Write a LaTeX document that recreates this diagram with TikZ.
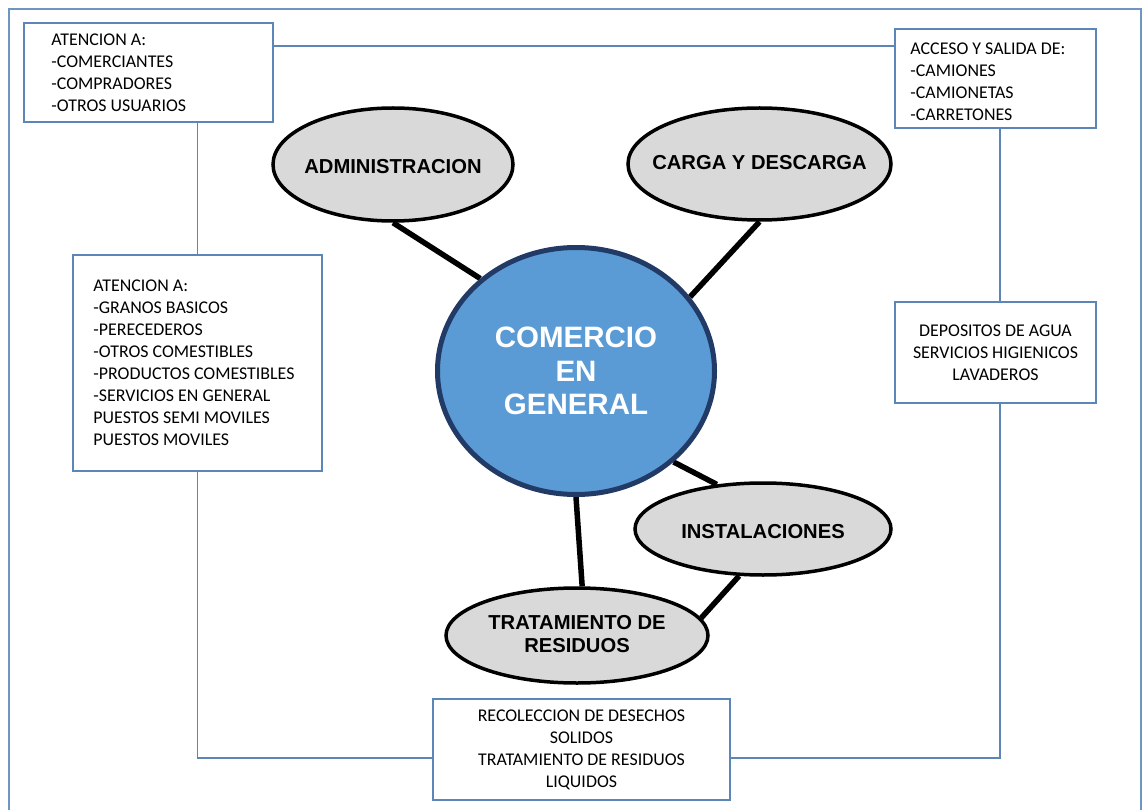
\documentclass[tikz,border=0pt]{standalone}
\usepackage{fontspec}
\setmainfont{Carlito}
\newfontfamily\hfont{Liberation Sans}
\usetikzlibrary{shapes.geometric,backgrounds}
\definecolor{boxblue}{HTML}{5B86B5}
\definecolor{frameblue}{HTML}{6F96C2}
\definecolor{circfill}{HTML}{5B9BD5}
\definecolor{circline}{HTML}{223A66}
\definecolor{ellfill}{HTML}{D9D9D9}
\begin{document}
\begin{tikzpicture}[x=1pt,y=-1pt,
  infobox/.style={draw=boxblue,line width=1.5pt,rectangle,inner sep=0pt,
    font=\fontsize{17.9}{22}\selectfont,text=black},
  infotext/.style={anchor=west,inner sep=0pt,align=left,
    font=\fontsize{17.9}{22}\selectfont,text=black},
  link/.style={draw=boxblue,line width=1.5pt},
  bubble/.style={ellipse,draw=black,line width=3.5pt,fill=ellfill,inner sep=0pt},
  bubbletext/.style={inner sep=0pt,align=center,
    font=\hfont\bfseries\fontsize{20.2}{22.5}\selectfont},
  spoke/.style={draw=black,line width=5.5pt}]
\useasboundingbox (0,0) rectangle (1143,810);
% outer frame
\draw[draw=frameblue,line width=1.5pt] (9,810) -- (9,9) -- (1141,9) -- (1141,810);

% boxes
\node[infobox,minimum width=249pt,minimum height=99pt] (tl) at (148.5,72.5) {};
\node[infotext] (tltext) at ([xshift=28pt]tl.west)
  {ATENCION A:\\-COMERCIANTES\\-COMPRADORES\\-OTROS USUARIOS};
\node[infobox,minimum width=201pt,minimum height=99pt] (tr) at (995.5,78.5) {};
\node[infotext] (trtext) at ([xshift=16pt,yshift=-3.5pt]tr.west)
  {ACCESO Y SALIDA DE:\\-CAMIONES\\-CAMIONETAS\\-CARRETONES};
\node[infobox,minimum width=249pt,minimum height=216pt] (ml) at (197.5,363) {};
\node[infotext] (mltext) at ([xshift=21pt]ml.west)
  {ATENCION A:\\-GRANOS BASICOS\\-PERECEDEROS\\-OTROS COMESTIBLES\\-PRODUCTOS COMESTIBLES\\-SERVICIOS EN GENERAL\\PUESTOS SEMI MOVILES\\PUESTOS MOVILES};
\node[infobox,align=center,minimum width=201pt,minimum height=101pt] (mr) at (995.5,352.5)
  {DEPOSITOS DE AGUA\\SERVICIOS HIGIENICOS\\LAVADEROS};
\node[infobox,align=center,minimum width=297pt,minimum height=101pt] (bot) at (581.5,749.5)
  {RECOLECCION DE DESECHOS\\SOLIDOS\\TRATAMIENTO DE RESIDUOS\\LIQUIDOS};

% ellipses
\node[bubble,minimum width=240pt,minimum height=113pt] (adm) at (393,164.5) {};
\node[bubbletext] (admtext) at (393,167) {ADMINISTRACION};
\node[bubble,minimum width=263pt,minimum height=112pt] (carga) at (759.5,164) {};
\node[bubbletext] (cargatext) at (759.5,163) {CARGA Y DESCARGA};
\node[bubble,minimum width=256pt,minimum height=92pt] (inst) at (763,529) {};
\node[bubbletext] (insttext) at (763,532) {INSTALACIONES};
\node[bubble,minimum width=262pt,minimum height=95pt] (trat) at (577,635.5) {};
\node[bubbletext] (trattext) at (577,634) {TRATAMIENTO DE\\RESIDUOS};
\node[ellipse,draw=circline,line width=5pt,fill=circfill,inner sep=0pt,
  minimum width=277pt,minimum height=247pt,align=center,text=white,
  font=\hfont\bfseries\fontsize{29.5}{33.5}\selectfont] (ctr) at (576,371)
  {COMERCIO\\EN\\GENERAL};

\begin{pgfonlayer}{background}
  \draw[spoke] (adm.-90) -- (ctr.136.5);
  \draw[spoke] (carga.-90) -- (ctr.33);
  \draw[spoke] (ctr.-43.5) -- (inst.136);
  \draw[spoke] (ctr.-90) -- (trat.84);
  \draw[spoke] (trat.8) -- (inst.-117.5);
  \draw[link] ([yshift=26.5pt]tl.east) -- ([yshift=26.5pt]tl.east -| tr.west);
  \draw[link] (tl.south -| ml.north) -- (ml.north);
  \draw[link] (ml.south) |- ([yshift=-8.5pt]bot.west);
  \draw[link] ([xshift=4.5pt]tr.south) -- ([xshift=4.5pt]mr.north);
  \draw[link] ([xshift=4.5pt]mr.south) |- ([yshift=-8.5pt]bot.east);
\end{pgfonlayer}
\end{tikzpicture}
\end{document}
